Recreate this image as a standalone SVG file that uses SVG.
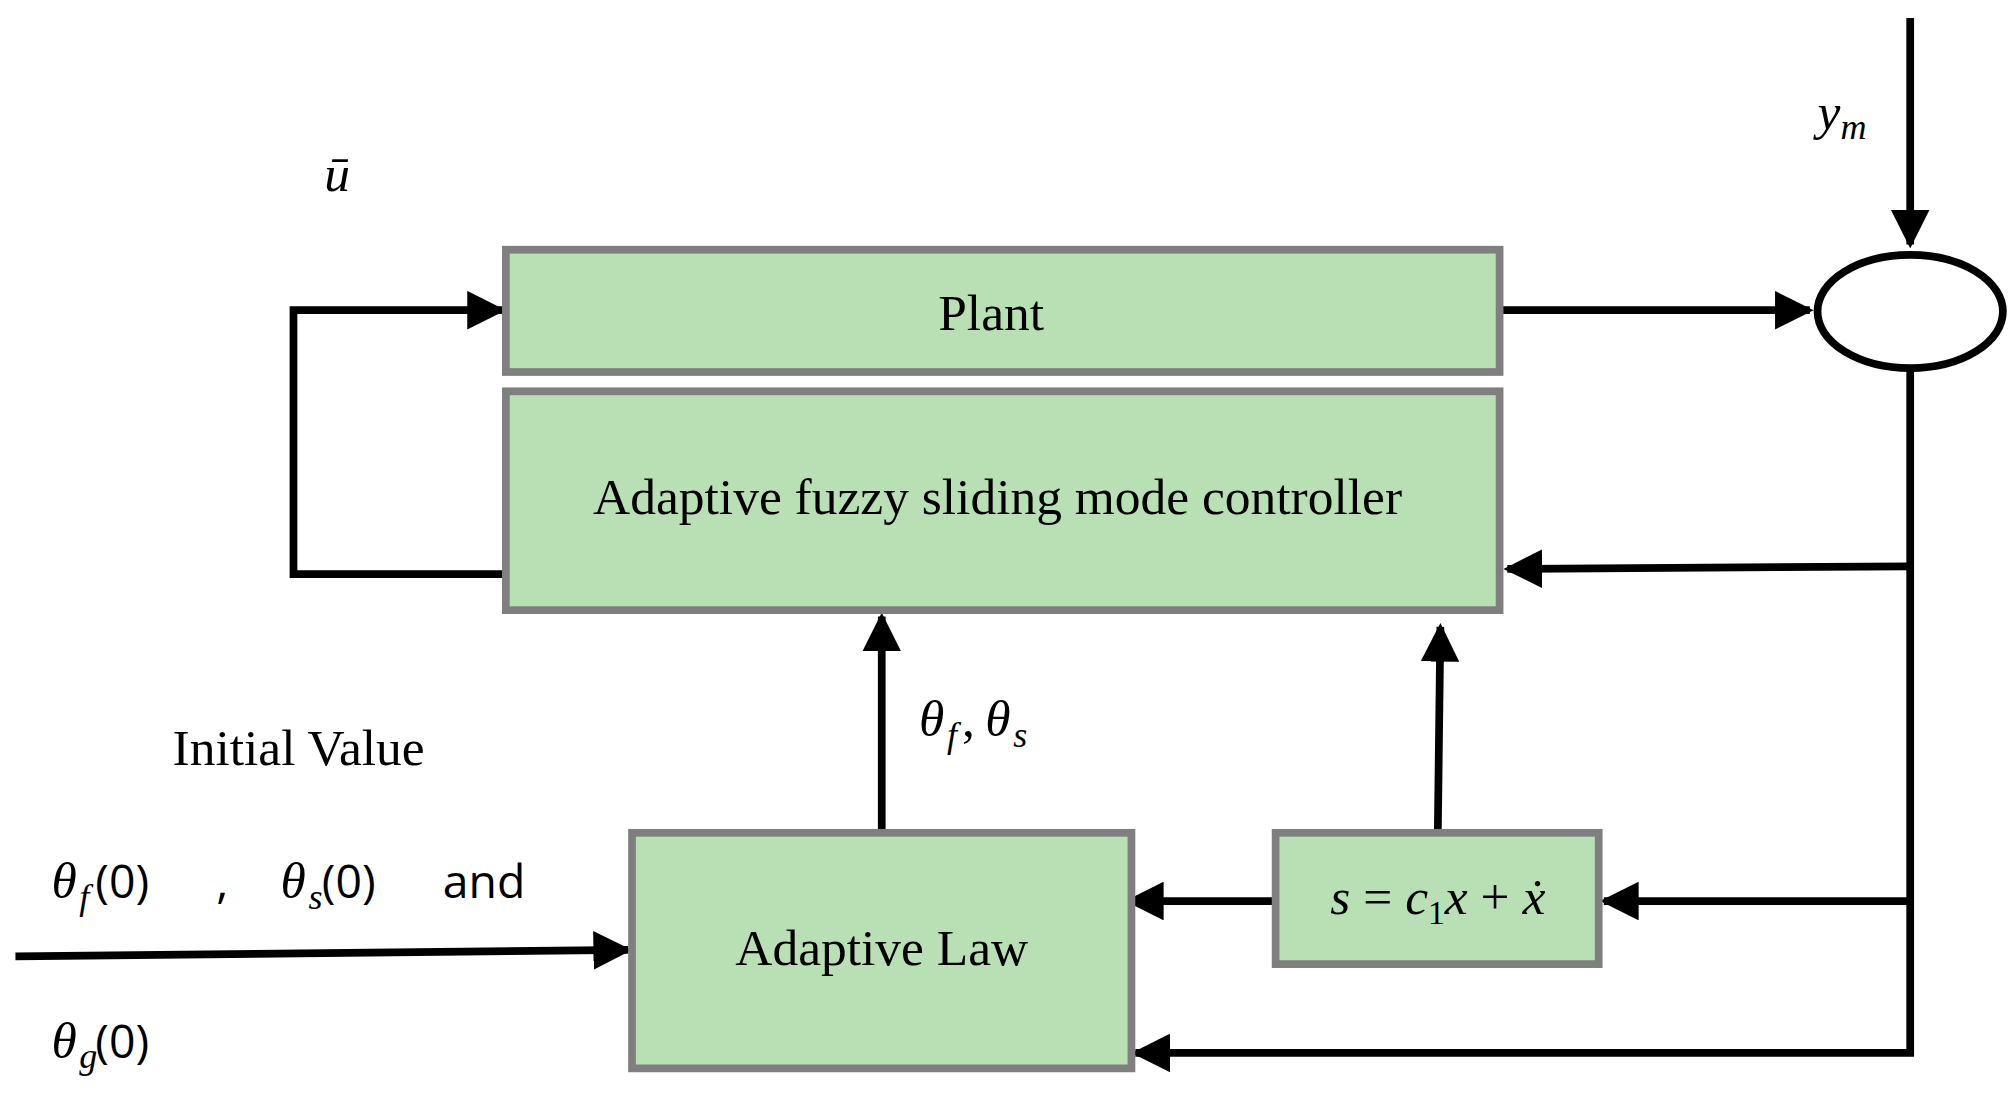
<svg xmlns="http://www.w3.org/2000/svg" width="2008" height="1095" viewBox="0 0 2008 1095">
<style>
.box{fill:#b9e0b4;stroke:#7f7f7f;stroke-width:6}
.ln{fill:none;stroke:#000;stroke-width:6}
.t{font-family:"Liberation Serif",serif;font-size:40px;text-anchor:middle;fill:#000}
.m{font-family:"Liberation Serif",serif;font-style:italic;font-size:40px;fill:#000}
.s{font-family:"Open Sans","Liberation Sans",sans-serif;font-size:36px;fill:#000}
</style>
<defs>
<marker id="a" markerWidth="5" markerHeight="5" refX="4.5" refY="2.5" orient="auto" markerUnits="strokeWidth"><path d="M0,0 L5,2.5 L0,5 Z" fill="#000"/></marker>
</defs>
<rect width="2008" height="1095" fill="#fff"/>
<g transform="scale(1.2872)">
<g id="connectors">
<path class="ln" d="M1484,14 V190" marker-end="url(#a)"/>
<path class="ln" d="M1165,241 H1406" marker-end="url(#a)"/>
<path class="ln" d="M1484,288 V818 H882" marker-end="url(#a)"/>
<path class="ln" d="M1484,440 L1171,442" marker-end="url(#a)"/>
<path class="ln" d="M1484,700 H1246" marker-end="url(#a)"/>
<path class="ln" d="M991,700 H877" marker-end="url(#a)"/>
<path class="ln" d="M393,446 H228 V241 H390" marker-end="url(#a)"/>
<path class="ln" d="M685,647 V479" marker-end="url(#a)"/>
<path class="ln" d="M1117,647 L1119,487" marker-end="url(#a)"/>
<path class="ln" d="M12,743 L488,738" marker-end="url(#a)"/>
</g>
<g id="plant"><rect class="box" x="393" y="194" width="772" height="95"/><text class="t" x="770" y="256">Plant</text></g>
<g id="controller"><rect class="box" x="393" y="304" width="772" height="170"/><text class="t" x="775" y="399">Adaptive fuzzy sliding mode controller</text></g>
<g id="sum"><ellipse cx="1484" cy="242" rx="72" ry="44" fill="#fff" stroke="#000" stroke-width="6"/></g>
<g id="law"><rect class="box" x="491" y="647" width="388" height="183"/><text class="t" x="685" y="750">Adaptive Law</text></g>
<g id="sbox"><rect class="box" x="991" y="647" width="251" height="102"/><text class="m" x="1117" y="710" text-anchor="middle">s <tspan font-style="normal">=</tspan> c<tspan font-style="normal" font-size="26" dy="8">1</tspan><tspan dy="-8">x</tspan> <tspan font-style="normal">+</tspan> ẋ</text></g>
<g id="labels">
<text class="m" x="252" y="148">ū</text>
<text class="m" x="1412" y="100">y<tspan font-size="28" dy="8">m</tspan></text>
<text class="t" x="232" y="594">Initial Value</text>
<text class="m" x="714" y="572">θ<tspan font-size="28" dy="8" dx="2">f</tspan><tspan dy="-8" dx="4" font-style="normal">,</tspan><tspan dx="8">θ</tspan><tspan font-size="28" dy="8" dx="2">s</tspan></text>
<text class="m" x="40" y="698">θ<tspan font-size="28" dy="8" dx="2">f</tspan></text>
<text class="s" x="74" y="698">(0)</text>
<text class="s" x="168" y="698">,</text>
<text class="m" x="218" y="698">θ<tspan font-size="28" dy="8" dx="2">s</tspan></text>
<text class="s" x="250" y="698">(0)</text>
<text class="s" x="344" y="698">and</text>
<text class="m" x="40" y="822">θ<tspan font-size="28" dy="8" dx="2">g</tspan></text>
<text class="s" x="74" y="822">(0)</text>
</g>
</g>
</svg>
